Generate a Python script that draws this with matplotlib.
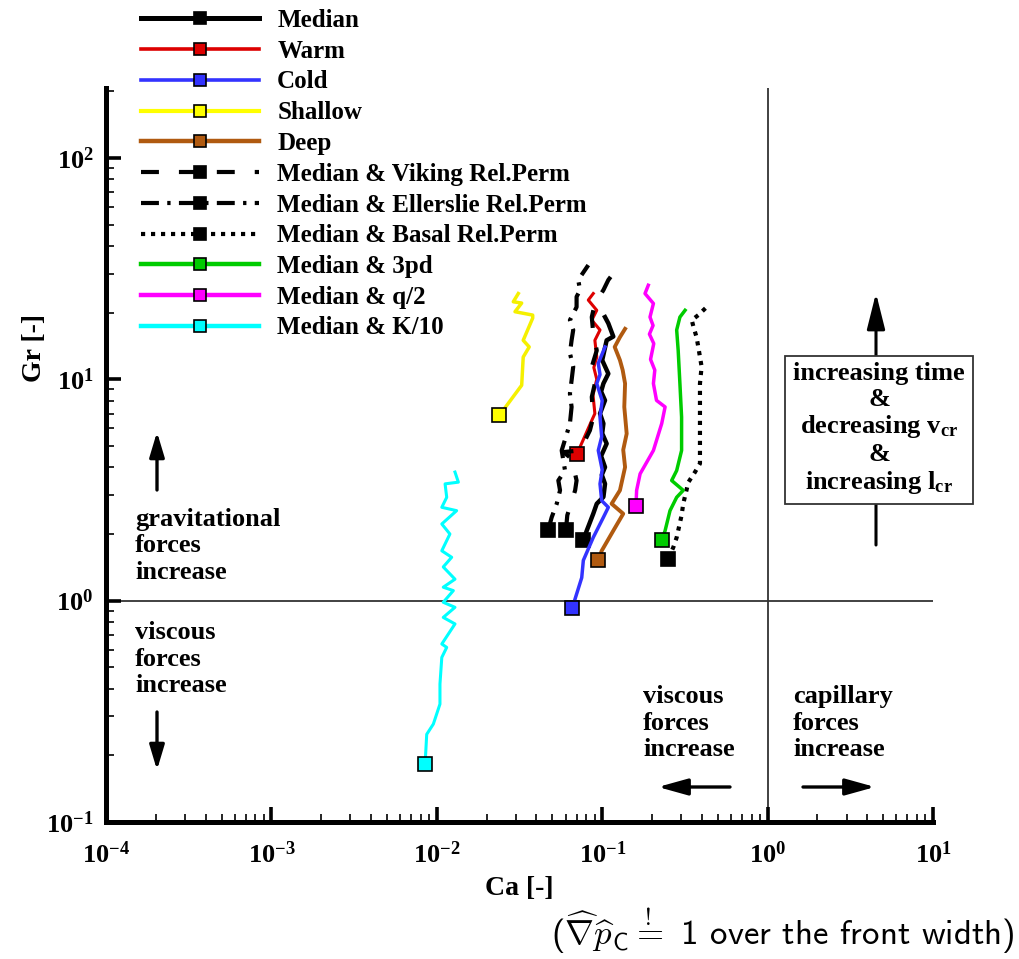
import matplotlib
matplotlib.use("Agg")
import matplotlib.pyplot as plt
from matplotlib.lines import Line2D
from matplotlib.ticker import LogLocator, LogFormatterSciNotation, NullFormatter

plt.rcParams['font.family'] = ['Liberation Serif', 'DejaVu Serif']
plt.rcParams['font.weight'] = 'bold'
plt.rcParams['axes.labelweight'] = 'bold'
plt.rcParams['mathtext.fontset'] = 'custom'
plt.rcParams['mathtext.rm'] = 'Liberation Serif:bold'
plt.rcParams['mathtext.it'] = 'Liberation Serif:bold:italic'
plt.rcParams['mathtext.bf'] = 'Liberation Serif:bold'
plt.rcParams['axes.unicode_minus'] = False

# ---------------- data (Ca, Gr) ----------------
median_ca = [0.0769, 0.0806, 0.0883, 0.0927, 0.1017, 0.104, 0.0995, 0.104, 0.0985, 0.1064, 0.1000,
             0.1017, 0.0970, 0.104, 0.0985, 0.1017, 0.1089, 0.1000, 0.1064, 0.1167, 0.1089, 0.104]
median_gr = [1.87, 2.07, 2.47, 2.74, 2.94, 3.37, 3.7, 4.01, 4.5, 5.12, 5.7,
             6.31, 7.0, 8.03, 8.8, 9.57, 10.6, 12.2, 15.0, 15.6, 17.9, 19.1]

warm_ca = [0.0702, 0.0865, 0.0903, 0.0880, 0.0927, 0.0890, 0.0927, 0.0903, 0.0970, 0.0865, 0.0927, 0.0824, 0.0883]
warm_gr = [4.58, 6.52, 7.0, 8.5, 10.0, 11.3, 12.6, 15.0, 16.7, 18.5, 20.5, 22.8, 24.4]

cold_ca = [0.0659, 0.0686, 0.0752, 0.0769, 0.0883, 0.1017, 0.1089, 0.0993, 0.0970, 0.1000, 0.0947,
           0.0993, 0.0970, 0.1000, 0.0927, 0.0970, 0.0947, 0.104]
cold_gr = [0.923, 1.02, 1.27, 1.52, 1.93, 2.38, 2.64, 2.83, 3.37, 3.9, 4.77,
           5.5, 6.75, 8.0, 9.57, 10.5, 11.8, 14.0]

shallow_ca = [0.0239, 0.0326, 0.0333, 0.0362, 0.0333, 0.0380, 0.0380, 0.0297, 0.0326, 0.0290, 0.0311]
shallow_gr = [6.87, 9.4, 12.6, 14.0, 15.0, 18.9, 19.5, 20.2, 22.1, 22.4, 24.4]

deep_ca = [0.0947, 0.0993, 0.1167, 0.134, 0.114, 0.128, 0.1375, 0.1340, 0.1406, 0.1360, 0.1375,
           0.1330, 0.128, 0.119, 0.128, 0.1375]
deep_gr = [1.52, 1.68, 2.07, 2.47, 2.74, 3.15, 4.01, 4.8, 5.68, 7.5, 9.57,
           11.0, 12.2, 14.0, 15.5, 16.9]

viking_ca = [0.0604, 0.0615, 0.0686, 0.0700, 0.0653, 0.0582, 0.0735, 0.0843, 0.0883, 0.0865, 0.0903,
             0.0865, 0.0927, 0.0883, 0.0865, 0.0903, 0.1017, 0.1089, 0.1167]
viking_gr = [2.09, 2.43, 3.15, 3.49, 4.38, 4.69, 4.77, 5.88, 6.75, 8.32, 9.57,
             11.4, 13.5, 16.1, 19.1, 22.0, 25.3, 28.1, 30.1]

ellerslie_ca = [0.0472, 0.0495, 0.0531, 0.0556, 0.0543, 0.0596, 0.0569, 0.0638, 0.0653, 0.0638, 0.0653,
                0.0668, 0.0638, 0.0653, 0.0668, 0.0638, 0.0700, 0.0700, 0.0735, 0.0716, 0.0824]
ellerslie_gr = [2.09, 2.38, 2.74, 3.15, 3.49, 3.87, 4.77, 6.31, 7.5, 8.61, 9.89,
                11.4, 13.1, 15.0, 16.7, 18.5, 21.2, 23.6, 25.3, 28.1, 32.8]

basal_ca = [0.251, 0.269, 0.282, 0.302, 0.309, 0.332, 0.364, 0.390, 0.390, 0.390, 0.390,
            0.399, 0.381, 0.372, 0.356, 0.348, 0.381, 0.428]
basal_gr = [1.545, 1.74, 1.93, 2.43, 2.74, 3.43, 3.81, 4.16, 4.94, 6.75, 9.57,
            11.4, 14.0, 15.5, 17.3, 18.5, 19.5, 21.2]

pd3_ca = [0.229, 0.240, 0.257, 0.282, 0.309, 0.263, 0.282, 0.302, 0.302, 0.295, 0.288, 0.282, 0.295, 0.317]
pd3_gr = [1.87, 2.07, 2.55, 2.93, 3.15, 3.49, 3.87, 4.77, 6.75, 9.57, 13.5, 16.7, 19.1, 20.5]

q2_ca = [0.160, 0.1615, 0.1695, 0.204, 0.229, 0.240, 0.213, 0.204, 0.208, 0.196, 0.205, 0.193,
         0.203, 0.1945, 0.204, 0.1815, 0.190]
q2_gr = [2.69, 3.15, 3.74, 4.77, 6.31, 7.5, 8.03, 9.57, 11.0, 12.3, 14.5, 16.0,
         17.5, 19.1, 22.0, 24.4, 26.6]

k10_ca = [0.00850, 0.00869, 0.00953, 0.01045, 0.01045, 0.01072, 0.01148, 0.01072, 0.01288, 0.01094,
          0.01288, 0.01094, 0.01259, 0.01094, 0.01288, 0.01094, 0.0123, 0.01072, 0.0120, 0.01072,
          0.01318, 0.01072, 0.01148, 0.01122, 0.0135, 0.01288]
k10_gr = [0.1836, 0.249, 0.277, 0.341, 0.420, 0.554, 0.615, 0.637, 0.785, 0.840,
          0.933, 0.983, 1.11, 1.15, 1.25, 1.42, 1.57, 1.68, 2.00, 2.22,
          2.55, 2.64, 2.93, 3.37, 3.43, 3.81]

labels = ['Median', 'Warm', 'Cold', 'Shallow', 'Deep',
          'Median & Viking Rel.Perm', 'Median & Ellerslie Rel.Perm', 'Median & Basal Rel.Perm',
          'Median & 3pd', 'Median & q/2', 'Median & K/10']

# ---------------- figure ----------------
W, H = 1019, 959
fig = plt.figure(figsize=(W / 100, H / 100), dpi=100)


def fp(x, y):
    return (x / W, 1 - y / H)


ax = fig.add_axes([106 / W, 1 - 822 / H, 827 / W, 734 / H])
ax.set_xscale('log')
ax.set_yscale('log')
ax.set_xlim(1e-4, 10)
ax.set_ylim(0.1, 207)

for s in ['top', 'right']:
    ax.spines[s].set_visible(False)
for s in ['left', 'bottom']:
    ax.spines[s].set_linewidth(3.6)

ax.xaxis.set_major_locator(LogLocator(base=10, numticks=10))
ax.yaxis.set_major_locator(LogLocator(base=10, numticks=10))
ax.xaxis.set_minor_locator(LogLocator(base=10, subs=range(2, 10), numticks=20))
ax.yaxis.set_minor_locator(LogLocator(base=10, subs=range(2, 10), numticks=20))
ax.xaxis.set_major_formatter(LogFormatterSciNotation())
ax.yaxis.set_major_formatter(LogFormatterSciNotation())
ax.xaxis.set_minor_formatter(NullFormatter())
ax.yaxis.set_minor_formatter(NullFormatter())
ax.tick_params(which='major', direction='in', length=11, width=2.6, labelsize=19)
ax.tick_params(which='minor', direction='in', length=6, width=1.2)
ax.tick_params(axis='x', which='major', pad=14)
ax.tick_params(axis='y', which='major', pad=9)

ax.axvline(1.0, color='#333333', lw=1.3, zorder=1)
ax.axhline(1.0, color='#333333', lw=1.3, zorder=1)

ax.set_xlabel('Ca [-]', fontsize=20, fontweight='bold', labelpad=6)
ax.set_ylabel('Gr [-]', fontsize=20, fontweight='bold')
ax.yaxis.set_label_coords(-0.071, 0.646)

msq = dict(marker='s', markersize=10, markeredgecolor='black', markeredgewidth=1.2, markevery=[0])

series = [
    (warm_ca, warm_gr, dict(color='#dd0000', lw=2.2, markerfacecolor='#dd0000')),
    (median_ca, median_gr, dict(color='black', lw=3.2, markerfacecolor='black')),
    (ellerslie_ca, ellerslie_gr, dict(color='black', lw=3.0, linestyle=(0, (4.3, 2.0, 0.8, 2.0)),
                                      markerfacecolor='black')),
    (viking_ca, viking_gr, dict(color='black', lw=3.0, linestyle=(0, (4.3, 4.8)), markerfacecolor='black')),
    (cold_ca, cold_gr, dict(color='#3333ff', lw=2.5, markerfacecolor='#3333ff')),
    (deep_ca, deep_gr, dict(color='#b05a10', lw=2.8, markerfacecolor='#b05a10')),
    (basal_ca, basal_gr, dict(color='black', lw=3.0, linestyle=(0, (1.0, 1.4)), markerfacecolor='black')),
    (pd3_ca, pd3_gr, dict(color='#00cc00', lw=2.5, markerfacecolor='#00cc00')),
    (q2_ca, q2_gr, dict(color='#ff00ff', lw=2.5, markerfacecolor='#ff00ff')),
    (shallow_ca, shallow_gr, dict(color='#f5f000', lw=2.5, markerfacecolor='#ffff00')),
    (k10_ca, k10_gr, dict(color='#00ffff', lw=2.2, markerfacecolor='#00ffff')),
]
for xs, ys, st in series:
    ax.plot(xs, ys, **msq, **st, zorder=3)

# legend (in the order of the reference)
leg_styles = [
    dict(color='black', lw=3.6, markerfacecolor='black'),
    dict(color='#dd0000', lw=2.6, markerfacecolor='#dd0000'),
    dict(color='#3333ff', lw=2.6, markerfacecolor='#3333ff'),
    dict(color='#ffff00', lw=3.0, markerfacecolor='#ffff00'),
    dict(color='#b05a10', lw=3.2, markerfacecolor='#b05a10'),
    dict(color='black', lw=3.0, linestyle=(0, (4.3, 4.8)), markerfacecolor='black'),
    dict(color='black', lw=3.0, linestyle=(0, (4.3, 2.0, 0.8, 2.0)), markerfacecolor='black'),
    dict(color='black', lw=3.0, linestyle=(0, (1.0, 1.4)), markerfacecolor='black'),
    dict(color='#00cc00', lw=3.2, markerfacecolor='#00cc00'),
    dict(color='#ff00ff', lw=3.2, markerfacecolor='#ff00ff'),
    dict(color='#00ffff', lw=3.2, markerfacecolor='#00ffff'),
]
handles = [Line2D([0], [0], marker='s', markersize=9, markeredgecolor='black', markeredgewidth=1.2, **st)
           for st in leg_styles]
fig.legend(handles, labels, loc='upper left', bbox_to_anchor=fp(141, 9), frameon=False,
           prop={'family': 'Liberation Serif', 'weight': 'bold', 'size': 18},
           handlelength=4.7, handletextpad=0.75, labelspacing=0.31, borderpad=0, borderaxespad=0,
           numpoints=1)

# annotation texts
txt = dict(fontsize=19, fontweight='bold', ha='left', va='center', linespacing=1.2)
fig.text(*fp(135, 546), 'gravitational\nforces\nincrease', **txt)
fig.text(*fp(135, 659), 'viscous\nforces\nincrease', **txt)
fig.text(*fp(643, 723), 'viscous\nforces\nincrease', **txt)
fig.text(*fp(793, 723), 'capillary\nforces\nincrease', **txt)


def arrow(x0, y0, x1, y1, hl, hw, lw):
    fig.add_artist(matplotlib.patches.FancyArrowPatch(
        fp(x0, y0), fp(x1, y1), transform=fig.transFigure,
        arrowstyle=f'-|>,head_length={hl},head_width={hw}', mutation_scale=10,
        lw=lw, color='black', shrinkA=0, shrinkB=0))


arrow(157, 490, 157, 432, 1.5, 0.45, 2.4)
arrow(157, 712, 157, 770, 1.5, 0.45, 2.4)
arrow(730, 787, 658, 787, 1.8, 0.5, 2.4)
arrow(803, 787, 875, 787, 1.8, 0.5, 2.4)
arrow(876, 545, 876, 293, 2.2, 0.55, 2.2)

fig.text(*fp(879, 429),
         'increasing time\n&\ndecreasing v$_{\\rm cr}$\n&\nincreasing l$_{\\rm cr}$',
         fontsize=19, fontweight='bold', ha='center', va='center', linespacing=1.15,
         bbox=dict(boxstyle='square,pad=0.3', facecolor='white', edgecolor='#333333', lw=1.3),
         zorder=5)

fig.text(*fp(1014, 945),
         r'($\widehat{\nabla}\widehat{p}_{\mathsf{C}}\overset{!}{=}$ 1 over the front width)',
         family='cmss10', math_fontfamily='cm', fontweight='normal', fontsize=25,
         ha='right', va='baseline')

fig.savefig('out.png', dpi=100)
